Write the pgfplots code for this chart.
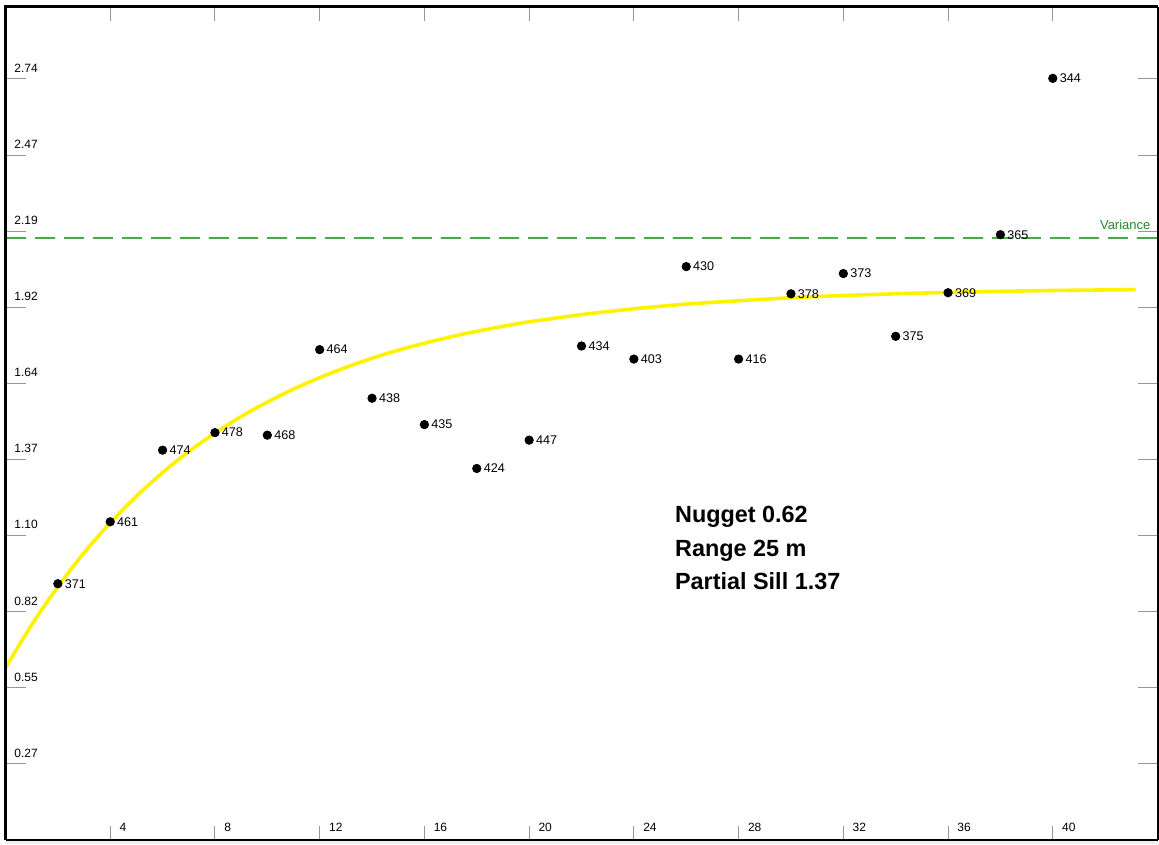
\documentclass[border=0pt]{standalone}
\usepackage{pgfplots}
\pgfplotsset{compat=1.18}
\usepackage{pgfplotstable}
\usepackage{fontspec}
\setmainfont{Liberation Sans}
\definecolor{varg}{RGB}{70,170,70}
\definecolor{vart}{RGB}{30,140,30}
\definecolor{tickg}{RGB}{150,150,150}

\pgfplotstableread{
x y lab
2 0.923 371
4 1.146 461
6 1.404 474
8 1.467 478
10 1.458 468
12 1.766 464
14 1.591 438
16 1.496 435
18 1.338 424
20 1.440 447
22 1.779 434
24 1.732 403
26 2.065 430
28 1.732 416
30 1.967 378
32 2.040 373
34 1.814 375
36 1.971 369
38 2.180 365
40 2.743 344
}\points

\pgfplotstableread{
x y
0 0.620
1 0.775
2 0.912
3 1.034
4 1.142
5 1.238
6 1.323
7 1.399
8 1.465
9 1.525
10 1.577
11 1.624
12 1.665
13 1.702
14 1.735
15 1.764
16 1.789
17 1.812
18 1.832
19 1.850
20 1.866
22 1.892
24 1.913
26 1.930
28 1.942
30 1.953
32 1.961
34 1.967
36 1.972
38 1.976
40 1.979
42 1.981
43.16 1.982
}\model

\begin{document}
\begin{tikzpicture}
\begin{axis}[
  scale only axis, width=576pt, height=416.5pt,
  xmin=0, xmax=44, ymin=0, ymax=3.0,
  axis line style={draw=none},
  axis background/.style={fill=white},
  tick align=inside, xtick pos=both, ytick pos=both,
  xtick={4,8,...,40},
  ytick={0.2741,0.5482,0.8223,1.0964,1.3705,1.6446,1.9187,2.1928,2.4669,2.741},
  yticklabels={0.27,0.55,0.82,1.10,1.37,1.64,1.92,2.19,2.47,2.74},
  minor tick num=0,
  major tick style={draw=tickg, line width=0.5pt},
  xtick style={/pgfplots/major tick length=7pt},
  ytick style={/pgfplots/major tick length=10pt},
  ticklabel style={font=\fontsize{6}{7}\selectfont, inner sep=0pt},
  yticklabel style={anchor=base west, xshift=4.25pt, yshift=3.3pt},
  xticklabel style={anchor=base west, xshift=4.5pt, yshift=4pt},
  /pgf/number format/assume math mode=true,
]
\addplot[varg, line width=1pt, dash pattern=on 10pt off 4.5pt] coordinates {(0,2.168) (44,2.168)};
\addplot[only marks, mark=*, mark size=2.1pt, black,
  nodes near coords, point meta=explicit symbolic,
  nodes near coords style={anchor=west, inner sep=0pt, xshift=3.3pt, font=\fontsize{6.3}{7}\selectfont, text=black}]
  table[x=x, y=y, meta=lab] {\points};
\addplot[yellow, line width=1.8pt, smooth] table[x=x, y=y] {\model};
\node[anchor=base west, inner sep=0pt, font=\bfseries\fontsize{11.7}{14}\selectfont] at (axis cs:25.56,1.142) {Nugget 0.62};
\node[anchor=base west, inner sep=0pt, font=\bfseries\fontsize{11.7}{14}\selectfont] at (axis cs:25.56,1.022) {Range 25 m};
\node[anchor=base west, inner sep=0pt, font=\bfseries\fontsize{11.7}{14}\selectfont] at (axis cs:25.56,0.901) {Partial Sill 1.37};
\node[anchor=base west, inner sep=0pt, text=vart, font=\fontsize{6.5}{8}\selectfont] at (axis cs:41.79,2.199) {Variance};
\end{axis}
\fill[black!6] ([shift={(0pt,-2pt)}]current axis.south west) rectangle (current axis.south east);
\draw[line width=1.5pt] (current axis.south west) -- (current axis.north west) -- (current axis.north east);
\draw[line width=1pt] (current axis.north east) -- (current axis.south east);
\draw[line width=0.6pt] (current axis.south west) -- (current axis.south east);
\pgfresetboundingbox
\path ([shift={(-2.75pt,-2pt)}]current axis.south west) rectangle ([shift={(0.75pt,3.5pt)}]current axis.north east);
\end{tikzpicture}
\end{document}
